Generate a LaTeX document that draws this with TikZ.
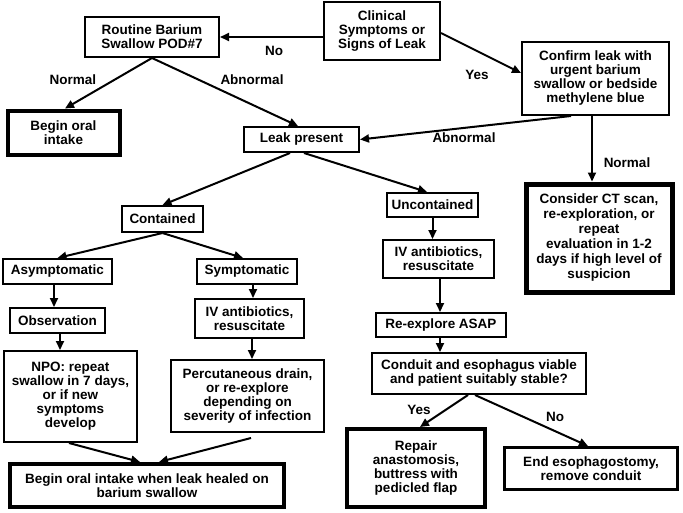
\documentclass[tikz,border=0pt]{standalone}
\usepackage{fontspec}
\setmainfont{Liberation Sans}
\usetikzlibrary{arrows.meta}
\tikzset{
  box/.style={draw=black, fill=white, line width=2pt, align=center, inner sep=1pt,
    font=\fontsize{13.5}{14}\selectfont\bfseries},
  thickbox/.style={box, line width=4pt},
  arr/.style={line width=2pt, -{Triangle[length=9pt,width=8pt]}},
  lab/.style={font=\fontsize{13.5}{14}\selectfont\bfseries, inner sep=0pt},
}
\newcommand{\bx}[4]{minimum width=#1pt, minimum height=#2pt}
\begin{document}
\begin{tikzpicture}[x=1pt,y=-1pt]
\useasboundingbox[fill=white] (0,0) rectangle (683,512);
% boxes
\node[box, minimum width=116pt, minimum height=58pt] (clin) at (382,31) {Clinical\\Symptoms or\\Signs of Leak};
\node[box, minimum width=134pt, minimum height=40pt] (routine) at (152,37) {Routine Barium\\Swallow POD\#7};
\node[box, minimum width=147pt, minimum height=73pt] (confirm) at (595.5,78.5) {Confirm leak with\\urgent barium\\swallow or bedside\\methylene blue};
\node[thickbox, minimum width=112pt, minimum height=44pt] (beginoral) at (63.5,132.5) {Begin oral\\intake};
\node[box, minimum width=115pt, minimum height=25pt] (leak) at (301.5,139.5) {Leak present};
\node[box, minimum width=81pt, minimum height=26pt] (contained) at (162.5,219) {Contained};
\node[box, minimum width=91pt, minimum height=24pt] (uncont) at (432.5,205) {Uncontained};
\node[thickbox, line width=5pt, minimum width=146pt, minimum height=108pt,
  font=\fontsize{13.5}{15}\selectfont\bfseries] (consider) at (599,238) {Consider CT scan,\\re-exploration, or\\repeat\\evaluation in 1-2\\days if high level of\\suspicion};
\node[box, minimum width=109pt, minimum height=25pt] (asym) at (57.5,271.5) {Asymptomatic};
\node[box, minimum width=100pt, minimum height=25pt] (sym) at (247,271.5) {Symptomatic};
\node[box, minimum width=109pt, minimum height=39pt] (ivl) at (249.5,318.5) {IV antibiotics,\\resuscitate};
\node[box, minimum width=111pt, minimum height=38pt] (ivr) at (438.5,259) {IV antibiotics,\\resuscitate};
\node[box, minimum width=95pt, minimum height=25pt] (obs) at (57.5,320.5) {Observation};
\node[box, minimum width=130pt, minimum height=24pt] (reexp) at (441,325) {Re-explore ASAP};
\node[box, minimum width=133pt, minimum height=91pt] (npo) at (70.5,396.5) {NPO: repeat\\swallow in 7 days,\\or if new\\symptoms\\develop};
\node[box, minimum width=153pt, minimum height=72pt] (perc) at (247.5,396) {Percutaneous drain,\\or re-explore\\depending on\\severity of infection};
\node[box, minimum width=214pt, minimum height=41pt] (conduit) at (479,373.5) {Conduit and esophagus viable\\and patient suitably stable?};
\node[thickbox, minimum width=274pt, minimum height=43pt] (beginwhen) at (147,485.5) {Begin oral intake when leak healed on\\barium swallow};
\node[thickbox, minimum width=138pt, minimum height=78pt] (repair) at (416,468) {Repair\\anastomosis,\\buttress with\\pedicled flap};
\node[thickbox, line width=3pt, minimum width=173pt, minimum height=42pt] (endeso) at (591,468.5) {End esophagostomy,\\remove conduit};
% connectors
\draw[arr] (clin.west |- routine.east) -- (routine.east);
\draw[arr] ([yshift=-2pt]clin.east) -- ([yshift=5.5pt]confirm.west);
\draw[arr] (routine.south) -- ([xshift=1.5pt]beginoral.north);
\draw[arr] (routine.south) -- ([xshift=-3.5pt]leak.north);
\draw[arr] ([xshift=-24.5pt]confirm.south) -- (leak.east);
\draw[arr] ([xshift=-3.5pt]confirm.south) -- ([xshift=-3.5pt]confirm.south |- consider.north);
\draw[arr] ([xshift=-11.5pt]leak.south) -- (contained.north);
\draw[arr] ([xshift=2.5pt]leak.south) -- ([xshift=-5.5pt]uncont.north);
\draw[arr] (contained.south) -- (asym.north);
\draw[arr] (contained.south) -- ([xshift=-4pt]sym.north);
\draw[arr] ([xshift=-3.5pt]asym.south) -- ([xshift=-3.5pt]asym.south |- obs.north);
\draw[arr] ([xshift=2.5pt]obs.south) -- ([xshift=2.5pt]obs.south |- npo.north);
\draw[arr] ([xshift=6pt]sym.south) -- ([xshift=6pt]sym.south |- ivl.north);
\draw[arr] ([xshift=2.5pt]ivl.south) -- ([xshift=2.5pt]ivl.south |- perc.north);
\draw[arr] (uncont.south) -- (uncont.south |- ivr.north);
\draw[arr] ([xshift=1.5pt]ivr.south) -- ([xshift=1.5pt]ivr.south |- reexp.north);
\draw[arr] ([xshift=-1pt]reexp.south) -- ([xshift=-1pt]reexp.south |- conduit.north);
\draw[arr] ([xshift=-11pt]conduit.south) -- ([xshift=4pt]repair.north);
\draw[arr] ([xshift=-4pt]conduit.south) -- ([xshift=-3pt]endeso.north);
\draw[arr] ([xshift=-1.5pt]npo.south) -- ([xshift=-7pt]beginwhen.north);
\draw[arr] ([xshift=3.5pt,yshift=-5pt]perc.south) -- ([xshift=12pt]beginwhen.north);
% labels
\node[lab] (l1) at (274,51) {No};
\node[lab] (l2) at (477,75) {Yes};
\node[lab] (l3) at (73,80) {Normal};
\node[lab] (l4) at (252,80) {Abnormal};
\node[lab] (l5) at (464,138) {Abnormal};
\node[lab] (l6) at (627,163) {Normal};
\node[lab] (l7) at (419,410) {Yes};
\node[lab] (l8) at (555,417) {No};
\end{tikzpicture}
\end{document}
